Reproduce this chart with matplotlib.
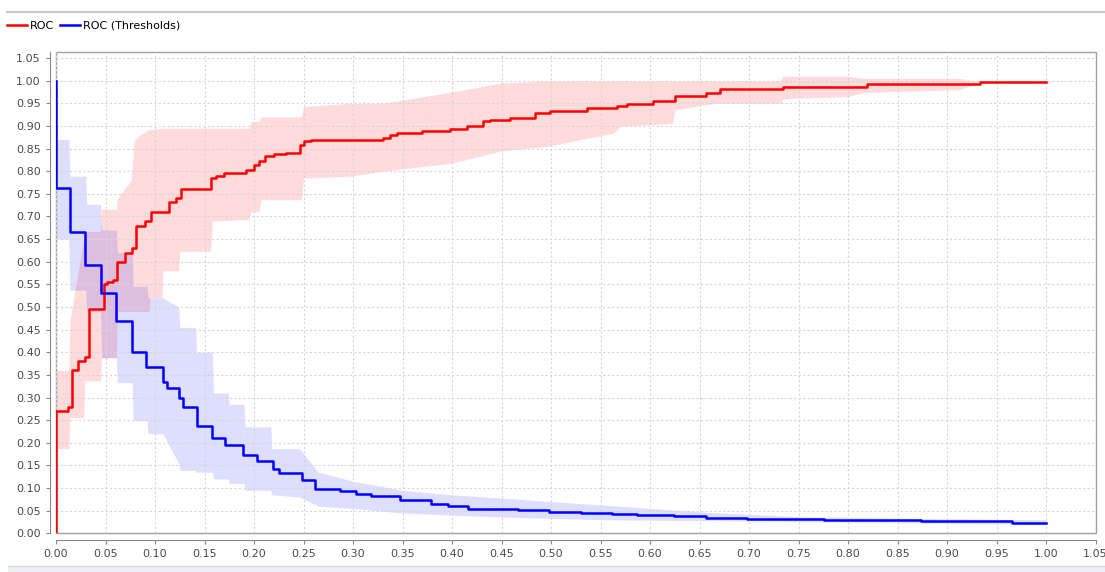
# ROC curve with threshold curve and +/- std bands

import matplotlib.pyplot as plt
from matplotlib.lines import Line2D
from matplotlib.patches import Rectangle

# ROC curve (steps, value holds from x[i] to x[i+1])
roc_x = [0.0, 0.0, 0.012, 0.016, 0.022, 0.029, 0.033, 0.048, 0.052, 0.058,
         0.062, 0.070, 0.077, 0.081, 0.090, 0.096, 0.110, 0.114, 0.121, 0.126,
         0.157, 0.162, 0.170, 0.192, 0.200, 0.205, 0.211, 0.220, 0.232, 0.246,
         0.251, 0.258, 0.267, 0.330, 0.337, 0.344, 0.370, 0.398, 0.415, 0.431,
         0.438, 0.459, 0.484, 0.499, 0.536, 0.567, 0.577, 0.603, 0.625, 0.657,
         0.671, 0.734, 0.819, 0.933, 1.0]
roc_y = [0.0, 0.27, 0.28, 0.36, 0.38, 0.39, 0.495, 0.55, 0.555, 0.56,
         0.60, 0.62, 0.63, 0.68, 0.69, 0.71, 0.71, 0.733, 0.74, 0.76,
         0.785, 0.79, 0.796, 0.803, 0.814, 0.823, 0.833, 0.838, 0.84, 0.859,
         0.866, 0.869, 0.869, 0.873, 0.880, 0.885, 0.888, 0.893, 0.899, 0.91,
         0.913, 0.918, 0.928, 0.933, 0.939, 0.944, 0.948, 0.955, 0.966, 0.972,
         0.981, 0.987, 0.992, 0.998, 0.998]

# ROC band (polygon vertices, linear between them)
roc_band_x = [0.0, 0.013, 0.014, 0.028, 0.029, 0.045, 0.046, 0.061, 0.062, 0.076,
              0.079, 0.083, 0.094, 0.095, 0.107, 0.108, 0.124, 0.125, 0.156, 0.158,
              0.195, 0.197, 0.205, 0.207, 0.248, 0.250, 0.297, 0.330, 0.400, 0.450,
              0.500, 0.530, 0.563, 0.570, 0.623, 0.625, 0.655, 0.670, 0.732, 0.734,
              0.800, 0.815, 0.913, 0.933, 1.0]
roc_upper = [0.36, 0.36, 0.47, 0.65, 0.667, 0.667, 0.716, 0.716, 0.74, 0.78,
             0.866, 0.877, 0.892, 0.892, 0.895, 0.895, 0.895, 0.895, 0.895, 0.895,
             0.895, 0.91, 0.91, 0.92, 0.92, 0.943, 0.95, 0.95, 0.975, 0.995,
             1.0, 1.0, 1.0, 1.0, 1.0, 1.0, 1.0, 1.0, 1.0, 1.01,
             1.01, 1.005, 1.005, 0.998, 0.998]
roc_lower = [0.187, 0.187, 0.256, 0.256, 0.337, 0.337, 0.388, 0.388, 0.49, 0.49,
             0.49, 0.49, 0.49, 0.52, 0.52, 0.58, 0.58, 0.623, 0.623, 0.69,
             0.693, 0.711, 0.711, 0.737, 0.737, 0.785, 0.789, 0.80, 0.818, 0.845,
             0.856, 0.87, 0.884, 0.899, 0.906, 0.935, 0.947, 0.95, 0.95, 0.96,
             0.965, 0.974, 0.98, 0.998, 0.998]

# ROC (Thresholds) curve
thr_x = [0.0, 0.0, 0.014, 0.029, 0.045, 0.061, 0.077, 0.091, 0.108, 0.112,
         0.124, 0.128, 0.142, 0.158, 0.171, 0.189, 0.203, 0.219, 0.225, 0.248,
         0.262, 0.287, 0.303, 0.318, 0.347, 0.379, 0.396, 0.416, 0.435, 0.467,
         0.498, 0.530, 0.562, 0.587, 0.624, 0.657, 0.698, 0.776, 0.874, 0.966,
         1.0]
thr_y = [1.0, 0.762, 0.665, 0.592, 0.53, 0.47, 0.40, 0.368, 0.335, 0.32,
         0.30, 0.28, 0.238, 0.211, 0.196, 0.172, 0.159, 0.141, 0.134, 0.117,
         0.098, 0.0925, 0.087, 0.0815, 0.073, 0.064, 0.0595, 0.054, 0.053, 0.0507,
         0.047, 0.0448, 0.042, 0.0396, 0.0374, 0.0345, 0.032, 0.0286, 0.0264, 0.0227,
         0.0227]

# ROC (Thresholds) band (polygon vertices, linear between them)
thr_band_x = [0.0, 0.013, 0.014, 0.030, 0.031, 0.045, 0.046, 0.061, 0.062, 0.077,
              0.078, 0.092, 0.093, 0.108, 0.124, 0.125, 0.141, 0.142, 0.158, 0.159,
              0.174, 0.175, 0.190, 0.191, 0.217, 0.218, 0.246, 0.265, 0.30, 0.35,
              0.40, 0.45, 0.50, 0.55, 0.60, 0.66, 0.75, 0.90, 1.0]
thr_upper = [0.87, 0.87, 0.789, 0.789, 0.727, 0.727, 0.67, 0.67, 0.62, 0.62,
             0.546, 0.546, 0.52, 0.52, 0.50, 0.455, 0.455, 0.40, 0.40, 0.31,
             0.31, 0.285, 0.285, 0.235, 0.235, 0.187, 0.187, 0.135, 0.115, 0.095,
             0.085, 0.078, 0.07, 0.063, 0.055, 0.046, 0.037, 0.032, 0.03]
thr_lower = [0.65, 0.65, 0.537, 0.537, 0.49, 0.49, 0.388, 0.388, 0.333, 0.333,
             0.249, 0.249, 0.22, 0.22, 0.154, 0.139, 0.139, 0.135, 0.135, 0.12,
             0.12, 0.11, 0.11, 0.095, 0.095, 0.085, 0.08, 0.06, 0.055, 0.045,
             0.04, 0.036, 0.033, 0.03, 0.029, 0.028, 0.026, 0.022, 0.02]

ticks = [i * 0.05 for i in range(22)]
tick_labels = ['%.2f' % t for t in ticks]


def plot():
    W, H = 1105, 572
    fig = plt.figure(figsize=(W / 100, H / 100), dpi=100)
    ax = fig.add_axes([56 / W, 1 - 533.3 / H, (1095.5 - 56) / W, (533.3 - 51.7) / H])

    ax.fill_between(roc_band_x, roc_lower, roc_upper,
                    color='#ff0000', alpha=0.14, linewidth=0)
    ax.fill_between(thr_band_x, thr_lower, thr_upper,
                    color='#0000ff', alpha=0.13, linewidth=0)
    ax.plot(roc_x, roc_y, drawstyle='steps-post', color='#ff0000', lw=1.8)
    ax.plot(thr_x, thr_y, drawstyle='steps-post', color='#0000ff', lw=1.8)

    ax.set_xlim(0, 1.05)
    ax.set_ylim(0, (533.3 - 51.7) / 452.6)
    ax.set_xticks(ticks)
    ax.set_xticklabels(tick_labels)
    ax.set_yticks(ticks)
    ax.set_yticklabels(tick_labels)
    ax.tick_params(labelsize=8, labelcolor='#4a4a4a', color='#888888', length=3, width=0.8)
    ax.grid(color='#d6d6d6', linestyle=(0, (2, 2)), linewidth=0.8)

    for side in ['top', 'right']:
        ax.spines[side].set_visible(False)
    for side in ['left', 'bottom']:
        ax.spines[side].set_position(('outward', 4.5))
        ax.spines[side].set_color('#888888')
    ax.add_patch(Rectangle((0, 0), 1, 1, transform=ax.transAxes, fill=False,
                           edgecolor='#a0a0a0', lw=1.0, clip_on=False))

    handles = [Line2D([], [], color='#ff0000', lw=1.8),
               Line2D([], [], color='#0000ff', lw=1.8)]
    fig.legend(handles, ['ROC', 'ROC (Thresholds)'], loc='upper left',
               bbox_to_anchor=(7 / W, 1 - 21 / H), ncol=2, frameon=False,
               fontsize=8, handlelength=1.8, handletextpad=0.25,
               columnspacing=0.55, borderpad=0, borderaxespad=0)

    fig.add_artist(Line2D([7 / W, 1], [1 - 11.5 / H] * 2, color='#c8c8c8', lw=1.5))
    fig.add_artist(Rectangle((8 / W, 0), 1, 6 / H, transform=fig.transFigure,
                             facecolor='#eceef4', edgecolor='none'))
    fig.add_artist(Line2D([8 / W, 1], [6 / H] * 2, color='#d8dae0', lw=1.0))

    fig.savefig('out.png', dpi=100)


plot()
